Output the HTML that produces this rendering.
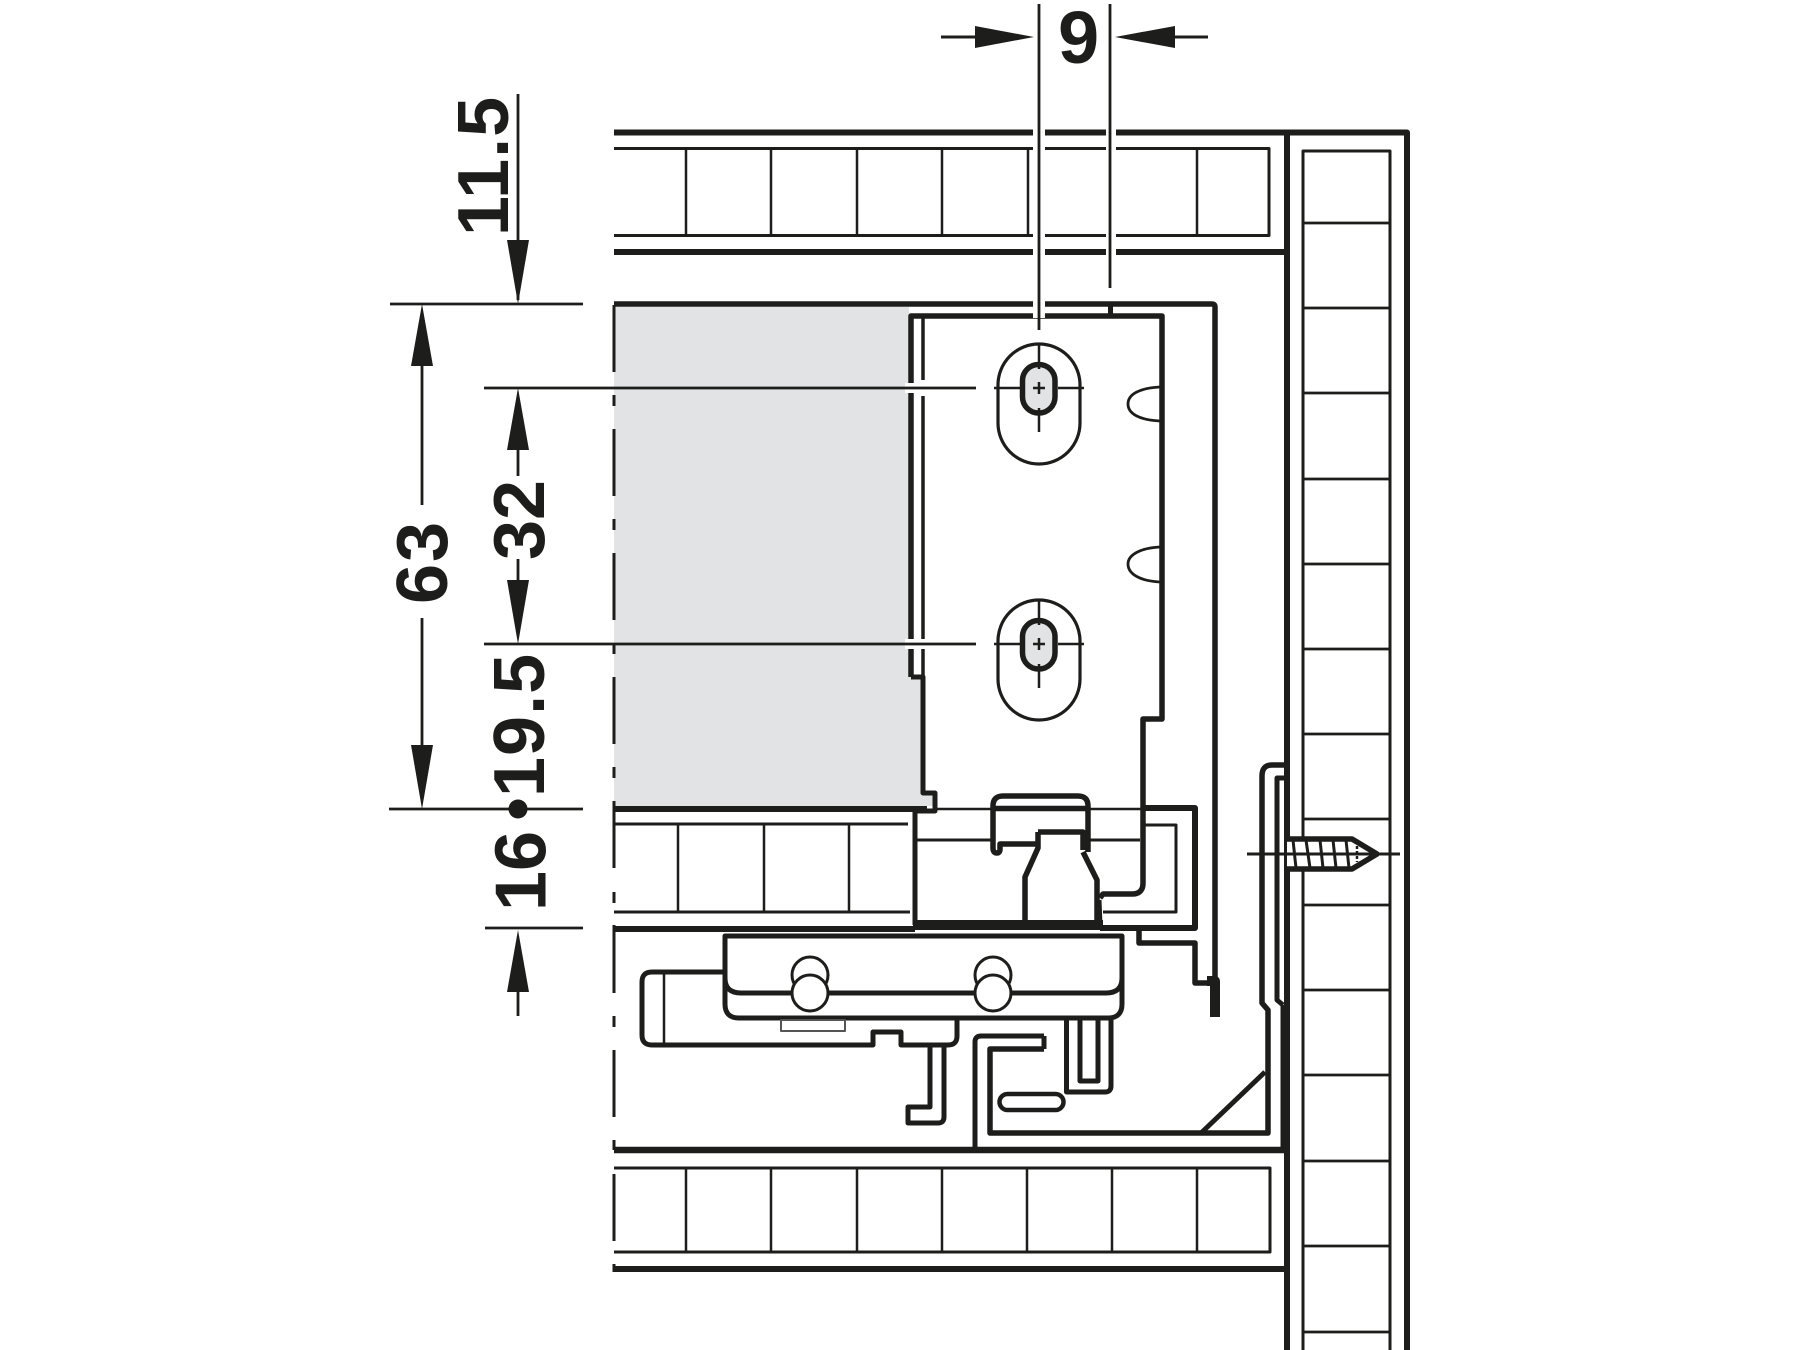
<!DOCTYPE html>
<html><head><meta charset="utf-8"><style>
html,body{margin:0;padding:0;background:#fff;width:1800px;height:1350px;overflow:hidden}
svg{display:block}
text{font-family:"Liberation Sans",sans-serif;font-weight:700;font-size:72px;fill:#1d1d1b}
</style></head><body>
<svg width="1800" height="1350" viewBox="0 0 1800 1350" xmlns="http://www.w3.org/2000/svg" fill="none" stroke="#1d1d1b" stroke-linejoin="round">
<rect x="0" y="0" width="1800" height="1350" fill="#fff" stroke="none"/>
<!-- grey -->
<path d="M614 307H909V677H922V793H933V806H614Z" fill="#e1e3e5" stroke="none"/>
<!-- dash-dot -->
<path d="M614 305V372M614 395V406M614 429V496M614 519V530M614 553V620M614 643V654M614 677V744M614 767V778M614 801V868M614 892V903M614 925V993M614 1016V1027M614 1050V1117M614 1140V1150M614 1174V1241M614 1264V1272" stroke-width="3"/>
<!-- top rail -->
<path d="M614 132.500H1407V1350" stroke-width="6"/>
<path d="M614 252H1287" stroke-width="6"/>
<path d="M614 148.500H1269V235.500H614" stroke-width="3"/>
<path d="M686 148V236M771 148V236M857 148V236M942 148V236M1028 148V236M1113 148V236M1197 148V236" stroke-width="2.500"/>
<!-- panel -->
<path d="M1287 132V1350" stroke-width="6"/>
<path d="M1303 1350V151H1390V1350" stroke-width="3"/>
<path d="M1303 223H1390M1303 308H1390M1303 393H1390M1303 479H1390M1303 564H1390M1303 649H1390M1303 734H1390M1303 819H1390M1303 905H1390M1303 990H1390M1303 1075H1390M1303 1161H1390M1303 1246H1390M1303 1332H1390" stroke-width="2.800"/>
<!-- shelf outer -->
<path d="M614 304H1212Q1215 304 1215 307V1017" stroke-width="5.500"/>
<path d="M1207 981H1215V1017" stroke-width="10"/>
<path d="M1110.500 304V316" stroke-width="5"/>
<!-- block -->
<path d="M911 677V316H1162V719H1143V883Q1143 894 1132 894H1103L1100 898" stroke-width="5.500"/>
<path d="M923 316V380" stroke-width="3.500"/>
<path d="M923 396V677" stroke-width="3.500"/>
<path d="M911 677H923V793H935V811H915V925" stroke-width="5"/>
<!-- middle rail -->
<path d="M614 809H927" stroke-width="6"/>
<path d="M935 809H1145" stroke-width="2.500"/>
<path d="M1145 808H1195V928H1100" stroke-width="6"/>
<path d="M614 929H915" stroke-width="6"/>
<path d="M614 824H908M614 912H910" stroke-width="3"/>
<path d="M678 824V912M764 824V912M849 824V912" stroke-width="2.500"/>
<path d="M917 840H992M1090 840H1140" stroke-width="3"/>
<path d="M1145 825H1176V912H1103" stroke-width="3"/>
<rect x="913" y="920" width="190" height="10" fill="#1d1d1b" stroke="none"/>
<!-- clip -->
<path d="M1088 852V806Q1088 796 1078 796H1003Q993 796 993 806V848Q993 853 997 853Q1000 853 1000 849V844H1038M1038 832H1083V850" stroke-width="5.500"/>
<path d="M993 808.500H1088" stroke-width="5.500"/>
<path d="M1025 920V877L1038 848V832M1083 852L1097 880V920" stroke-width="5.500"/>
<path d="M1099 900L1100 925" stroke-width="5"/>
<!-- step -->
<path d="M1139 930V943H1195V983H1207" stroke-width="5.500"/>
<!-- slider -->
<path d="M725 936H1122V1004Q1122 1018 1108 1018H739Q725 1018 725 1004Z" stroke-width="5" fill="#fff"/>
<path d="M725 978Q725 993 741 993H1106Q1122 993 1122 978" stroke-width="5"/>
<g stroke-width="3" fill="#fff">
<circle cx="810" cy="975" r="18"/><circle cx="993" cy="975" r="18"/>
<circle cx="810" cy="993" r="18"/><circle cx="993" cy="993" r="18"/>
</g>
<path d="M723 972H652Q642 972 642 982V1035Q642 1045 652 1045H873V1032H901V1045H948Q957 1045 957 1036V1020" stroke-width="5"/>
<path d="M664 972V1045" stroke-width="2.500"/>
<rect x="781" y="1020" width="64" height="11" stroke-width="2" stroke="#555"/>
<path d="M930 1047V1107H908V1123H938Q944 1123 944 1117V1047" stroke-width="5"/>
<!-- bracket -->
<path d="M1044 1036H981Q975 1036 975 1042V1150" stroke-width="5"/>
<path d="M1044 1049H990V1133H1268V1010L1262 1003V776Q1262 765 1272 765H1285" stroke-width="5.500"/>
<path d="M1044 1036V1049" stroke-width="5"/>
<path d="M1285 778H1277V1000L1283 1005" stroke-width="5"/>
<path d="M1285 1005V1150" stroke-width="9"/>
<path d="M1200 1134L1265 1072" stroke-width="5"/>
<path d="M614 1150H1285" stroke-width="6.500"/>
<path d="M1066.500 1020V1092H1105Q1111 1092 1111 1086V1020" stroke-width="5"/>
<path d="M1080 1020V1081H1098V1020" stroke-width="5"/>
<rect x="999.500" y="1094" width="64" height="16" rx="8" stroke-width="4.500"/>
<!-- bottom rail -->
<path d="M614 1168H1270V1252H614" stroke-width="3"/>
<path d="M686 1168V1252M771 1168V1252M857 1168V1252M942 1168V1252M1027 1168V1252M1112 1168V1252M1197 1168V1252" stroke-width="2.500"/>
<path d="M614 1269H1287" stroke-width="6"/>
<!-- screw -->
<path d="M1287 839H1352L1377 854L1352 869H1287" stroke-width="5.500" fill="#fff"/>
<path d="M1293 840L1296 868M1306 840L1310 868M1320 840L1323 868M1333 840L1336 868M1346 840L1349 868M1247 854H1400" stroke-width="3"/>
<path d="M1357 846V862" stroke-width="2.500" stroke-dasharray="3 2"/>
<!-- holes -->
<g>
<rect x="998" y="344" width="82" height="120" rx="41" stroke-width="3.200"/>
<rect x="1022.500" y="364.500" width="32.500" height="48.500" rx="16" fill="#e1e3e5" stroke-width="5.500"/>
<path d="M994 388H1020M1058 388H1084M1039 343V369M1039 408V432M1033 388H1045M1039 382V394" stroke-width="2.500"/>
</g>
<g>
<rect x="998" y="600" width="82" height="120" rx="41" stroke-width="3.200"/>
<rect x="1022.500" y="620.500" width="32.500" height="48.500" rx="16" fill="#e1e3e5" stroke-width="5.500"/>
<path d="M994 644H1020M1058 644H1084M1039 599V625M1039 664V688M1033 644H1045M1039 638V650" stroke-width="2.500"/>
</g>
<!-- notches -->
<path d="M1160 387C1140 388 1128 394 1128 404C1128 414 1140 420 1160 421" stroke-width="2.800"/>
<path d="M1160 547C1140 548 1128 555 1128 564C1128 574 1140 581 1160 582" stroke-width="2.800"/>
<!-- halos -->
<g stroke="#fff">
<path d="M1039 125V258M1039 295V318" stroke-width="12"/>
<path d="M1111 125V258" stroke-width="10"/>
<path d="M905 388H930M905 644H930" stroke-width="10"/>
</g>
<!-- dimension lines -->
<g stroke-width="2.800">
<path d="M1039 4V330M1110 4V288"/>
<path d="M484 388H976M484 644H976"/>
<path d="M390 304H583M389 809H583M485 928H583"/>
<path d="M518 94V300"/>
<path d="M422 366V505M422 618V745"/>
<path d="M518 450V476M518 559V580M518 992V1016"/>
</g>
<path d="M941 37H975M1175 37H1208" stroke-width="3"/>
<g fill="#1d1d1b" stroke="none">
<path d="M975 26L1034 37L975 48Z"/>
<path d="M1175 26L1115 37L1175 48Z"/>
<path d="M507 240H529L518 304Z"/>
<path d="M411 366H433L422 304Z"/>
<path d="M411 745H433L422 809Z"/>
<path d="M507 450H529L518 388Z"/>
<path d="M507 580H529L518 644Z"/>
<path d="M507 992H529L518 930Z"/>
<circle cx="518" cy="809" r="9.500"/>
</g>
<!-- text -->
<g stroke="none">
<text x="1058" y="63" style="font-size:74px">9</text>
<text transform="translate(508 236) rotate(-90)" letter-spacing="1">11.5</text>
<text transform="translate(447 604) rotate(-90)" letter-spacing="2">63</text>
<text transform="translate(544 560) rotate(-90)">32</text>
<text transform="translate(544 797) rotate(-90)" letter-spacing="1">19.5</text>
<text transform="translate(545.500 911) rotate(-90)">16</text>
</g>
</svg>
</body></html>
